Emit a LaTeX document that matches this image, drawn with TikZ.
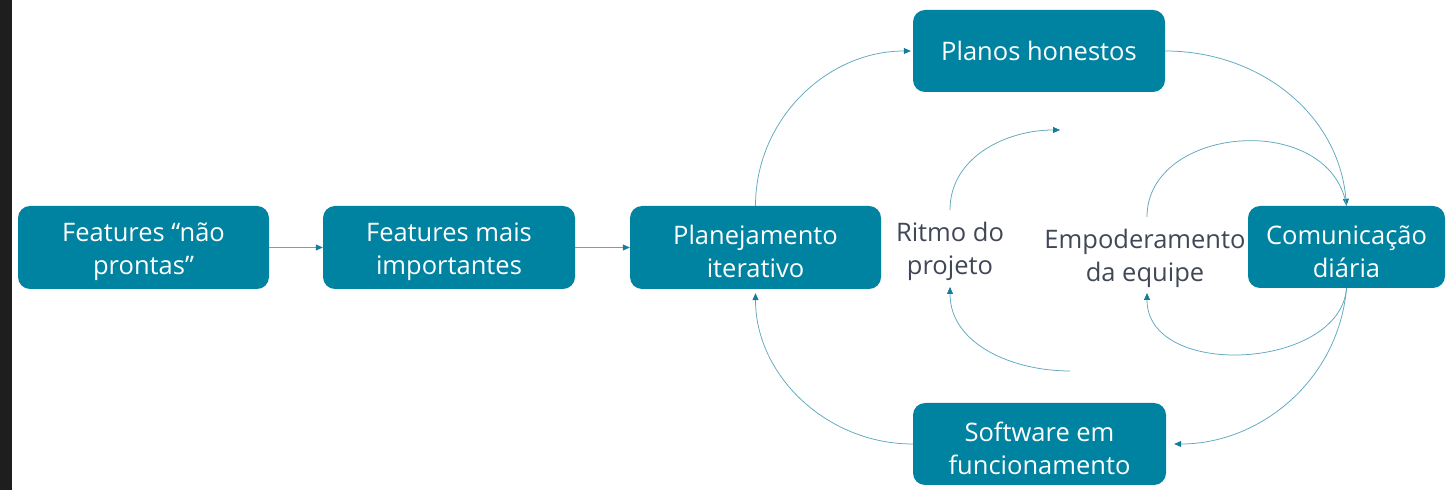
\documentclass[tikz,border=0pt]{standalone}
\usepackage{fontspec}
\setmainfont{Open Sans}
\usetikzlibrary{arrows.meta,calc}
\definecolor{boxfill}{RGB}{0,131,161}
\definecolor{linec}{RGB}{95,168,192}
\definecolor{tipc}{RGB}{20,125,155}
\definecolor{labc}{RGB}{64,72,88}
\definecolor{strip}{RGB}{30,30,30}
\newcommand{\dropstrut}{\rule{0pt}{28pt}}
\begin{document}
\begin{tikzpicture}[x=1pt,y=1pt,
  box/.style={draw=none,fill=boxfill,rounded corners=12pt,text=white,align=center,
    inner sep=0pt,minimum height=83pt,font=\fontsize{25.5}{33}\selectfont},
  lab/.style={text=labc,align=center,inner sep=0pt,font=\fontsize{25.5}{33}\selectfont},
  conn/.style={draw=linec,line width=0.75pt,-{Triangle[length=7pt,width=6pt,color=tipc,fill=tipc]}},
  plain/.style={draw=linec,line width=0.75pt}]
\useasboundingbox (0,0) rectangle (1446,490);
\fill[white] (0,0) rectangle (1446,490);
\fill[strip] (0,0) rectangle (12,490);
% boxes
\node[box,minimum width=251pt] (f1) at (143.5,242.5) {\dropstrut Features “não\\prontas”};
\node[box,minimum width=252pt] (f2) at (449,242.5) {\dropstrut Features mais\\importantes};
\node[box,minimum width=251pt] (p3) at (755.5,242.5) {\dropstrut Planejamento\\iterativo};
\node[box,minimum width=252pt,minimum height=82pt] (ph) at (1039,439) {Planos honestos};
\node[box,minimum width=197pt,minimum height=82pt] (cd) at (1346.5,243) {\dropstrut Comunicação\\diária};
\node[box,minimum width=253pt,minimum height=82pt] (sw) at (1039.5,46) {\dropstrut Software em\\funcionamento};
% labels
\node[lab] (rt) at (950,239) {Ritmo do\\projeto};
\node[lab] (em) at (1145,232) {Empoderamento\\da equipe};
% free ends
\coordinate (rtEnd) at (1060,360);
\coordinate (rtStart) at (1070,119);
% straight connectors
\draw[conn] (f1.east) -- (f2.west);
\draw[conn] (f2.east) -- (p3.west);
% outer loop
\draw[conn,shorten >=2pt] (p3.north) to[out=90,in=180] (ph.west);
\draw[conn] (ph.east) to[out=0,in=95] (cd.north);
\draw[conn,shorten >=8pt] (cd.south) to[out=-95,in=0] (sw.east);
\draw[conn,shorten >=4pt] (sw.west) to[out=180,in=-90] (p3.south);
% Ritmo loop
\draw[conn] (950,280) to[out=90,in=180] (rtEnd);
\draw[conn] (rtStart) to[out=180,in=-90] (950,203);
% Empoderamento loop
\draw[plain] (1147,273) .. controls (1147,365) and (1330,380) .. (cd.north);
\draw[conn] (cd.south) .. controls (1340,120) and (1147,110) .. (1147,197);
\end{tikzpicture}
\end{document}
